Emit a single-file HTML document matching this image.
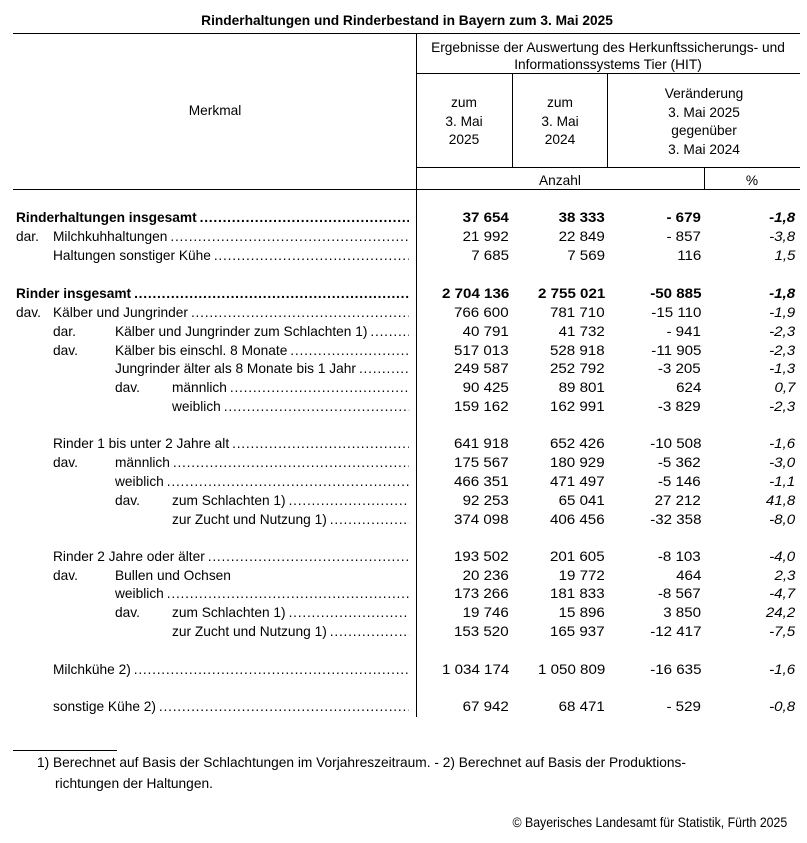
<!DOCTYPE html>
<html><head><meta charset="utf-8">
<style>
html,body{margin:0;padding:0;background:#fff;}
#page{position:relative;width:807px;height:843px;overflow:hidden;font-family:"Liberation Sans",Arial,sans-serif;font-size:14px;color:#000;}
.t{position:absolute;white-space:nowrap;line-height:16px;height:16px;}
.l{position:absolute;background:#000;}
.row{position:absolute;display:flex;line-height:16px;height:16px;white-space:nowrap;transform-origin:left center;}
.dots{flex:1;overflow:hidden;white-space:nowrap;margin-left:3px;letter-spacing:0.8px;font-weight:normal;}
</style></head>
<body>
<div id="page"></div>
<script>
const SX = 0.98;
const NSX = 1.08;
const rowY = [217,236,255,293,312,331,350,368,387,406,443,462,481,500,519,556,575,593,612,631,669,706];
const labels = ["Rinderhaltungen insgesamt","Milchkuhhaltungen","Haltungen sonstiger Kühe","Rinder insgesamt","Kälber und Jungrinder","Kälber und Jungrinder zum Schlachten 1)","Kälber bis einschl. 8 Monate","Jungrinder älter als 8 Monate bis 1 Jahr","männlich","weiblich","Rinder 1 bis unter 2 Jahre alt","männlich","weiblich","zum Schlachten 1)","zur Zucht und Nutzung 1)","Rinder 2 Jahre oder älter","Bullen und Ochsen","weiblich","zum Schlachten 1)","zur Zucht und Nutzung 1)","Milchkühe 2)","sonstige Kühe 2)"];
const labelX = [16,53,53,16,53,115,115,115,172,172,53,115,115,172,172,53,115,115,172,172,53,53];
const prefixes = ["","dar.","","","dav.","dar.","dav.","","dav.","","","dav.","","dav.","","","dav.","","dav.","","",""];
const prefixX = [0,16,0,0,16,53,53,0,115,0,0,53,0,115,0,0,53,0,115,0,0,0];
const boldRows = [1,0,0,1,0,0,0,0,0,0,0,0,0,0,0,0,0,0,0,0,0,0];
const dotRows = [1,1,1,1,1,1,1,1,1,1,1,1,1,1,1,1,0,1,1,1,1,1];
const v2025 = ["37 654","21 992","7 685","2 704 136","766 600","40 791","517 013","249 587","90 425","159 162","641 918","175 567","466 351","92 253","374 098","193 502","20 236","173 266","19 746","153 520","1 034 174","67 942"];
const v2024 = ["38 333","22 849","7 569","2 755 021","781 710","41 732","528 918","252 792","89 801","162 991","652 426","180 929","471 497","65 041","406 456","201 605","19 772","181 833","15 896","165 937","1 050 809","68 471"];
const diffs = ["- 679","- 857","116","-50 885","-15 110","- 941","-11 905","-3 205","624","-3 829","-10 508","-5 362","-5 146","27 212","-32 358","-8 103","464","-8 567","3 850","-12 417","-16 635","- 529"];
const pcts = ["-1,8","-3,8","1,5","-1,8","-1,9","-2,3","-2,3","-1,3","0,7","-2,3","-1,6","-3,0","-1,1","41,8","-8,0","-4,0","2,3","-4,7","24,2","-7,5","-1,6","-0,8"];

const page = document.getElementById('page');
function line(x,y,w,h,name){
  const d=document.createElement('div');d.className='l';
  d.style.left=x+'px';d.style.top=y+'px';d.style.width=w+'px';d.style.height=h+'px';
  
  
  page.appendChild(d);
}
function txt(x,cy,s,align,name,opt){
  opt=opt||{};
  const d=document.createElement('div');d.className='t';d.textContent=s;
  d.style.top=(cy-8)+'px';
  if(opt.bold)d.style.fontWeight='bold';
  if(opt.italic)d.style.fontStyle='italic';
  if(opt.size)d.style.fontSize=opt.size+'px';
  const sx=opt.sx||SX;
  if(align==='right'){d.style.right=(807-x)+'px';d.style.transformOrigin='right center';d.style.transform='scaleX('+sx+')';}
  else if(align==='center'){d.style.left=x+'px';d.style.transform='translateX(-50%) scaleX('+sx+')';}
  else {d.style.left=x+'px';d.style.transformOrigin='left center';d.style.transform='scaleX('+sx+')';}
  
  
  page.appendChild(d);
}
line(13,33,787,1,'top-rule');
line(416,33,1,684,'label-column-divider');
line(416,73,384,1,'hit-header-rule');
line(512,73,1,94,'col-divider-2025');
line(607,73,1,94,'col-divider-2024');
line(416,167,384,1,'unit-header-rule');
line(704,167,1,22,'unit-divider');
line(13,189,787,1,'header-bottom-rule');
line(13,750,104,1,'footnote-rule');
txt(407,20,'Rinderhaltungen und Rinderbestand in Bayern zum 3. Mai 2025','center','table-title',{bold:true});
txt(215,110,'Merkmal','center','merkmal-header');
txt(608,47,'Ergebnisse der Auswertung des Herkunftssicherungs- und','center','hit-header-line1');
txt(608,64,'Informationssystems Tier (HIT)','center','hit-header-line2');
['zum','3. Mai','2025'].forEach((s,i)=>txt(464,102+i*18.5,s,'center','header-2025-line'+(i+1)));
['zum','3. Mai','2024'].forEach((s,i)=>txt(560,102+i*18.5,s,'center','header-2024-line'+(i+1)));
['Veränderung','3. Mai 2025','gegenüber','3. Mai 2024'].forEach((s,i)=>txt(704,93+i*18.5,s,'center','header-change-line'+(i+1)));
txt(560,180,'Anzahl','center','unit-anzahl');
txt(752,180,'%','center','unit-percent');
for(let i=0;i<labels.length;i++){
  const y=rowY[i];
  const b=!!boldRows[i];
  if(prefixes[i]) txt(prefixX[i],y,prefixes[i],'left','row-prefix-'+(i+1));
  const r=document.createElement('div');r.className='row';
  const w=409-labelX[i];
  r.style.left=labelX[i]+'px';r.style.top=(y-8)+'px';r.style.width=(w/SX)+'px';
  r.style.transform='scaleX('+SX+')';
  if(b)r.style.fontWeight='bold';
  
  
  const sp=document.createElement('span');sp.textContent=labels[i];r.appendChild(sp);
  if(dotRows[i]){
    const dd=document.createElement('span');dd.className='dots';dd.textContent='.'.repeat(200);
    if(b)dd.style.fontWeight='bold';
    
    
    r.appendChild(dd);
  }
  page.appendChild(r);
  txt(509,y,v2025[i],'right','value-2025-row'+(i+1),{bold:b,sx:NSX});
  txt(605,y,v2024[i],'right','value-2024-row'+(i+1),{bold:b,sx:NSX});
  txt(701,y,diffs[i],'right','change-abs-row'+(i+1),{bold:b,sx:NSX});
  txt(795,y,pcts[i],'right','change-pct-row'+(i+1),{bold:b,italic:true,sx:NSX});
}
txt(37,762,'1)  Berechnet auf Basis der Schlachtungen im Vorjahreszeitraum. - 2)  Berechnet auf Basis der Produktions-','left','footnote-line1');
txt(55,783,'richtungen der Haltungen.','left','footnote-line2');
txt(787,822,'© Bayerisches Landesamt für Statistik, Fürth 2025','right','copyright',{sx:0.88});
</script>
</body></html>
